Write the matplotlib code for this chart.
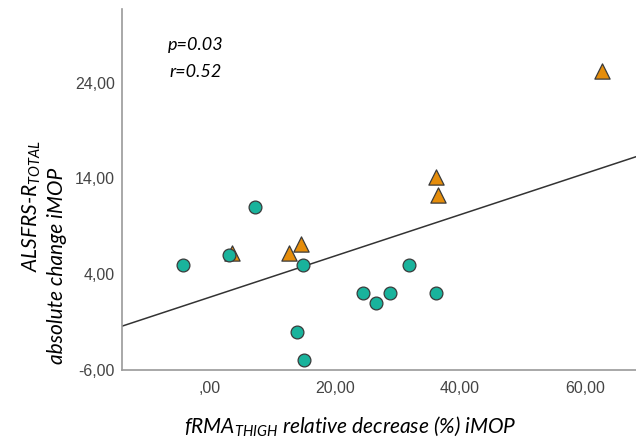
import matplotlib
matplotlib.use("Agg")
from matplotlib import pyplot as plt
import numpy as np

# circles (teal group)
circ_x = [-4.4, 3.1, 7.2, 14.9, 13.9, 15.0, 24.5, 26.6, 28.8, 31.9, 36.2]
circ_y = [5, 6, 11, 5, -2, -5, 2, 1, 2, 5, 2]

# triangles (orange group)
tri_x = [3.5, 12.6, 14.5, 36.1, 36.5, 62.7]
tri_y = [6.2, 6.2, 7.2, 14.2, 12.3, 25.2]

# fit line
fit_slope = 0.215
fit_icept = 1.61

xticks = [0, 20, 40, 60]
xtick_labels = [',00', '20,00', '40,00', '60,00']
yticks = [-6, 4, 14, 24]
ytick_labels = ['-6,00', '4,00', '14,00', '24,00']

plt.rcParams['mathtext.fontset'] = 'custom'
plt.rcParams['mathtext.it'] = 'Lato:italic'
plt.rcParams['mathtext.rm'] = 'Lato:italic'
plt.rcParams['mathtext.default'] = 'it'

fig = plt.figure(figsize=(6.36, 4.4), dpi=100)
ax = fig.add_axes([122/636, 1 - 370/440, 1 - 122/636, (370 - 9)/440])

xlo, xhi = -14.1, 68.2
ax.set_xlim(xlo, xhi)
ax.set_ylim(-6, 31.7)

# regression line
lx = np.array([xlo, xhi])
ax.plot(lx, fit_icept + fit_slope * lx, color='#333333', lw=1.1, zorder=2)

ax.scatter(tri_x, tri_y, marker='^', s=120, color='#e58d0b',
           edgecolor='#3a3a3a', linewidth=0.9, zorder=3)
ax.scatter(circ_x, circ_y, marker='o', s=85, color='#19b39c',
           edgecolor='#3a3a3a', linewidth=0.9, zorder=4)

for side in ['top', 'right']:
    ax.spines[side].set_visible(False)
for side in ['left', 'bottom']:
    ax.spines[side].set_color('#9a9a9a')
    ax.spines[side].set_linewidth(1.2)

ax.set_xticks(xticks)
ax.set_xticklabels(xtick_labels, fontfamily='Liberation Sans', fontsize=11.5, color='#444444')
ax.set_yticks(yticks)
ax.set_yticklabels(ytick_labels, fontfamily='Liberation Sans', fontsize=11.5, color='#444444')
ax.tick_params(axis='both', length=0)
ax.tick_params(axis='x', pad=8)
ax.tick_params(axis='y', pad=5)

# annotations
fig.text(196/636, 1 - 45/440, 'p=0.03', fontfamily='Lato', fontstyle='italic',
         fontsize=13, ha='center', va='center')
fig.text(196/636, 1 - 72/440, 'r=0.52', fontfamily='Lato', fontstyle='italic',
         fontsize=13, ha='center', va='center')

# axis titles
fig.text(32/636, 1 - 206/440, 'ALSFRS-$R_{TOTAL}$', fontfamily='Lato', fontstyle='italic',
         fontsize=15, rotation=90, ha='center', va='center')
fig.text(57/636, 1 - 266/440, 'absolute change iMOP', fontfamily='Lato', fontstyle='italic',
         fontsize=15, rotation=90, ha='center', va='center')
fig.text(350/636, 1 - 426/440, '$fRMA_{THIGH}$ relative decrease (%) iMOP', fontfamily='Lato',
         fontstyle='italic', fontsize=15, ha='center', va='center')

fig.savefig('out.png', dpi=100)
